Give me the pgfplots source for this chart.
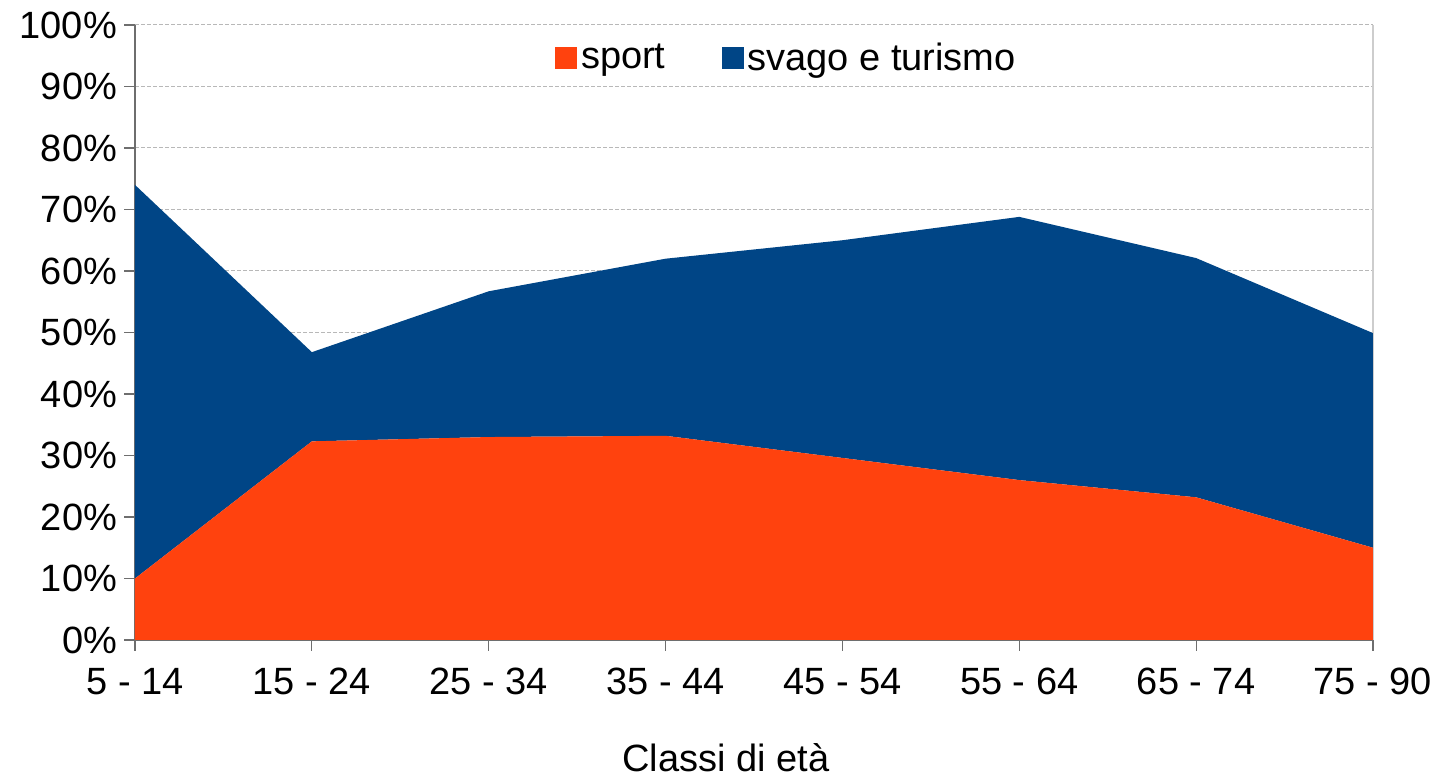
\documentclass[border=0pt]{standalone}
\usepackage{fontspec}
\setmainfont{Liberation Sans}
\usepackage{pgfplots}
\pgfplotsset{compat=1.18}
\definecolor{cred}{HTML}{FF420E}
\definecolor{cblue}{HTML}{004586}
\definecolor{axgray}{HTML}{6E6E6E}
\definecolor{gridgray}{HTML}{B8B8B8}
\begin{document}
\begin{tikzpicture}
\useasboundingbox (-67.5pt,-68pt) rectangle (656pt,320pt);
\begin{axis}[
  at={(0pt,0pt)}, anchor=south west,
  scale only axis, width=619pt, height=307.5pt,
  xmin=0, xmax=7, ymin=0, ymax=100,
  stack plots=y,
  axis x line*=bottom, axis y line*=left,
  axis line style={draw=axgray, line width=0.6pt},
  xtick={0,...,7},
  xticklabels={5 - 14,15 - 24,25 - 34,35 - 44,45 - 54,55 - 64,65 - 74,75 - 90},
  ytick={0,10,...,100},
  yticklabels={0\%,10\%,20\%,30\%,40\%,50\%,60\%,70\%,80\%,90\%,100\%},
  tick align=outside,
  major tick length=5.5pt,
  tick style={draw=axgray, line width=0.6pt},
  tick label style={font=\fontsize{19}{23}\selectfont},
  xticklabel shift=5pt,
  ymajorgrids,
  grid style={draw=gridgray, dash pattern=on 2pt off 1pt, line width=0.5pt},
  legend columns=2,
  legend style={at={(0.527,0.946)}, anchor=center, draw=none, fill=none,
    font=\fontsize{19}{23}\selectfont, /tikz/every even column/.append style={column sep=26pt}},
  legend image code/.code={\fill[#1] (-3pt,-5.5pt) rectangle (8pt,5.5pt);},
  clip=false,
]
\addplot[fill=cred, draw=none] coordinates {
  (0,10.0) (1,32.3) (2,33.0) (3,33.2) (4,29.6) (5,26.0) (6,23.2) (7,15.0)
} \closedcycle;
\addlegendentry{sport}
\addplot[fill=cblue, draw=none] coordinates {
  (0,64.0) (1,14.5) (2,23.7) (3,28.8) (4,35.4) (5,42.8) (6,38.9) (7,34.9)
} \closedcycle;
\addlegendentry{svago e turismo}
\draw[gridgray!70, line width=0.6pt] (rel axis cs:1,0) -- (rel axis cs:1,1);
\end{axis}
\node[font=\fontsize{19}{23}\selectfont, anchor=base, inner sep=0pt] at (295.5pt,-66pt) {Classi di età};
\end{tikzpicture}
\end{document}
